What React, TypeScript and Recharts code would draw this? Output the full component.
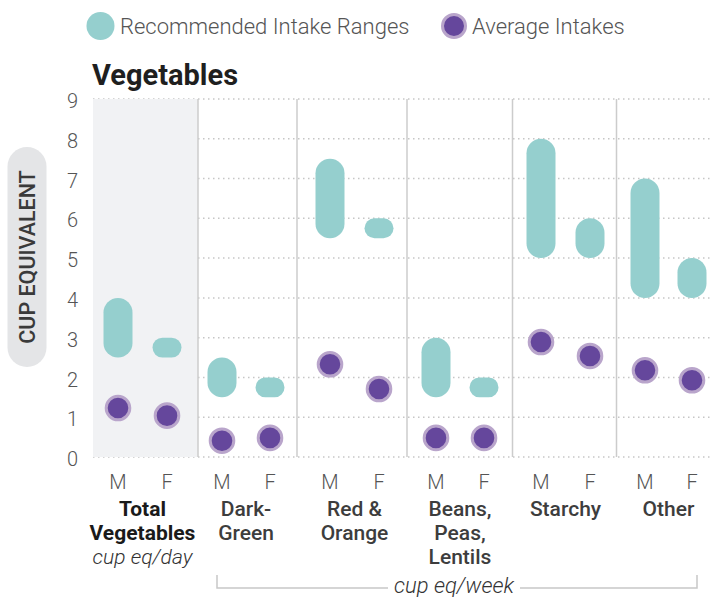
import React from "react";
import {
  ComposedChart, Bar, Scatter, XAxis, YAxis, CartesianGrid, ReferenceArea, ReferenceLine,
} from "recharts";

// categories (each label split into lines) and sub-columns
const groups = [
  ["Total", "Vegetables"],
  ["Dark-", "Green"],
  ["Red &", "Orange"],
  ["Beans,", "Peas,", "Lentils"],
  ["Starchy"],
  ["Other"],
];
const sexes = ["M", "F", "M", "F", "M", "F", "M", "F", "M", "F", "M", "F"];

// column positions on the x scale, and where the group dividers sit
const colX = [2.5, 7.4, 12.9, 17.7, 23.7, 28.6, 34.3, 39.1, 44.8, 49.7, 55.2, 59.9];
const dividers = [10.5, 20.4, 31.4, 41.95, 52.35];
const xMax = 61.9;

// recommended ranges (low / high) and average intakes, cup eq
const rangeLow = [2.5, 2.5, 1.5, 1.5, 5.5, 5.5, 1.5, 1.5, 5, 5, 4, 4];
const rangeHigh = [4, 3, 2.5, 2, 7.5, 6, 3, 2, 8, 6, 7, 5];
const averages = [1.23, 1.04, 0.41, 0.48, 2.33, 1.71, 0.48, 0.48, 2.89, 2.54, 2.18, 1.93];

const yTicks = [0, 1, 2, 3, 4, 5, 6, 7, 8, 9];

const TEAL = "#95cfce";
const PURPLE = "#65479c";
const RING = "#b9a5cb";
const FONT = "Roboto, 'Noto Sans', sans-serif";

const chartData = colX.map((x, i) => ({
  x,
  sex: sexes[i],
  range: [rangeLow[i], rangeHigh[i]],
  avg: averages[i],
}));

// group labels sit midway between their M and F columns
const groupX = groups.map((_, g) => (colX[g * 2] + colX[g * 2 + 1]) / 2);
const allTicks = [...colX, ...groupX].sort((a, b) => a - b);

const BottomTick = (props: any) => {
  const { x, y, payload } = props;
  const i = colX.indexOf(payload.value);
  if (i >= 0) {
    return (
      <text x={x} y={y + 32} textAnchor="middle" fontSize={20} fontWeight={300} fill="#555" fontFamily={FONT}>
        {sexes[i]}
      </text>
    );
  }
  const g = groupX.indexOf(payload.value);
  const lines = groups[g] || [];
  const isTotal = g === 0;
  return (
    <g>
      {lines.map((ln, k) => (
        <text
          key={k}
          x={x}
          y={y + 59 + k * 24}
          textAnchor="middle"
          fontSize={21}
          fontWeight={isTotal ? 700 : 500}
          fill={isTotal ? "#1a1a1a" : "#3d3d3d"}
          fontFamily={FONT}
        >
          {ln}
        </text>
      ))}
      {isTotal && (
        <text x={x} y={y + 59 + 2 * 24} textAnchor="middle" fontSize={21} fontWeight={300}
          fontStyle="italic" fill="#333" fontFamily={FONT}>
          cup eq/day
        </text>
      )}
    </g>
  );
};

const AvgDot = (props: any) => {
  const { cx, cy } = props;
  return <circle cx={cx} cy={cy} r={11.8} fill={PURPLE} stroke={RING} strokeWidth={3} />;
};

export default function App() {
  return (
    <div style={{ position: "relative", width: 712, height: 597, fontFamily: FONT }}>
      <style>{"body{margin:0}"}</style>
      <ComposedChart
        width={712}
        height={597}
        data={chartData}
        margin={{ top: 99, right: 0, bottom: 30, left: 0 }}
      >
        <ReferenceArea x1={0} x2={dividers[0]} y1={0} y2={9} fill="#f1f2f4" fillOpacity={1} stroke="none" />
        <CartesianGrid vertical={false} stroke="#c6c6c6" strokeDasharray="1.5 3.5" strokeWidth={1.5} />
        {dividers.map((d) => (
          <ReferenceLine key={d} x={d} stroke="#cccccc" strokeWidth={1.5} />
        ))}
        <XAxis
          dataKey="x"
          type="number"
          domain={[0, xMax]}
          ticks={allTicks}
          interval={0}
          height={110}
          axisLine={false}
          tickLine={false}
          tickSize={0}
          tickMargin={0}
          tick={<BottomTick />}
        />
        <YAxis
          domain={[0, 9]}
          ticks={yTicks}
          interval={0}
          width={93}
          axisLine={false}
          tickLine={false}
          tickSize={0}
          tickMargin={15}
          tick={{ fontSize: 20, fontWeight: 300, fill: "#555", fontFamily: FONT, dy: 2 }}
        />
        <Bar dataKey="range" fill={TEAL} barSize={29} radius={15} isAnimationActive={false} />
        <Scatter dataKey="avg" shape={<AvgDot />} isAnimationActive={false} />
      </ComposedChart>

      <svg width={712} height={597} style={{ position: "absolute", left: 0, top: 0, pointerEvents: "none" }}>
        {/* legend */}
        <circle cx={100.5} cy={26} r={14} fill={TEAL} />
        <text x={120} y={26} dominantBaseline="central" fontSize={22} fontWeight={300} fill="#555" fontFamily={FONT}>
          Recommended Intake Ranges
        </text>
        <circle cx={454} cy={26} r={11.5} fill={PURPLE} stroke={RING} strokeWidth={3} />
        <text x={472} y={26} dominantBaseline="central" fontSize={22} fontWeight={300} fill="#555" fontFamily={FONT}>
          Average Intakes
        </text>

        {/* title */}
        <text x={92} y={85} fontSize={29} fontWeight={700} fill="#1f1f1f" fontFamily={FONT}>
          Vegetables
        </text>

        {/* y axis label pill */}
        <rect x={7.5} y={147} width={39} height={220} rx={19.5} fill="#e4e5e7" />
        <text
          x={27}
          y={257}
          transform="rotate(-90 27 257)"
          textAnchor="middle"
          dominantBaseline="central"
          fontSize={21.5}
          fontWeight={500}
          fill="#3a3a3a"
          fontFamily={FONT}
        >
          CUP EQUIVALENT
        </text>

        {/* weekly bracket */}
        <path d="M217 575 V588 H388 M520 588 H697 V575" fill="none" stroke="#c8c8c8" strokeWidth={1.5} />
        <text x={454} y={593} textAnchor="middle" fontSize={22} fontWeight={300} fontStyle="italic" fill="#333" fontFamily={FONT}>
          cup eq/week
        </text>
      </svg>
    </div>
  );
}
